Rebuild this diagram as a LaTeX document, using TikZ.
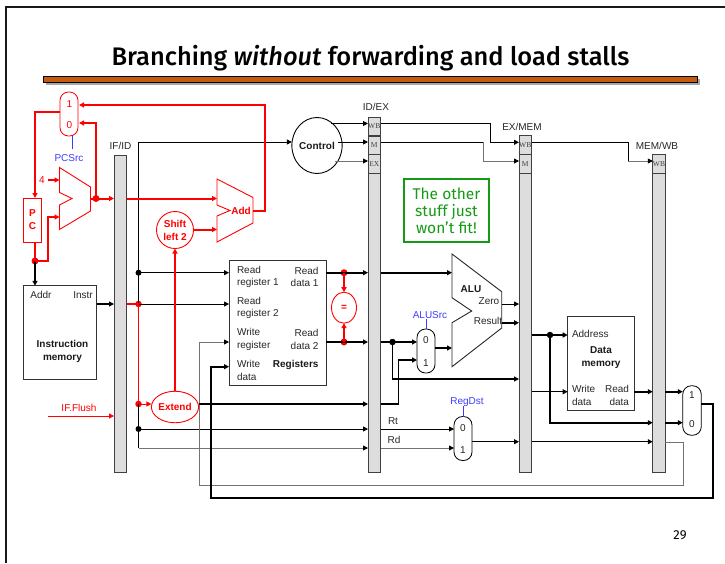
\documentclass[tikz,border=0pt]{standalone}
\usepackage{fontspec}
\setmainfont{Liberation Sans}
\newfontfamily\titlefont{Fira Sans}[BoldFont=* Medium,BoldItalicFont=* Medium Italic]
\newfontfamily\notefont{Fira Sans}
\newfontfamily\regfont{Liberation Serif}
\usetikzlibrary{arrows.meta,shapes.geometric,calc}
\definecolor{rulefill}{HTML}{C55A11}
\definecolor{barfill}{HTML}{DDDDDD}
\definecolor{ctlblue}{HTML}{3C3CFF}
\definecolor{notegreen}{HTML}{149A14}
\begin{document}
\begin{tikzpicture}[x=1pt,y=-1pt,
  font=\fontsize{10}{12.5}\selectfont,
  every node/.style={inner sep=0pt,outer sep=0pt},
  lbl/.style={text=black!85},
  blbl/.style={font=\fontsize{10}{13}\selectfont\bfseries,align=center,text=black!90},
  ctl/.style={text=ctlblue},
  rlbl/.style={text=red},
  rblbl/.style={text=red,font=\fontsize{10}{13}\selectfont\bfseries,align=center},
  blockbox/.style={draw=black!80,line width=.9pt,rectangle},
  bar/.style={draw=black!75,fill=barfill,line width=1pt,minimum width=12.5pt,rectangle},
  latch/.style={bar,minimum height=18.5pt,font=\regfont\fontsize{7.5}{8}\selectfont,text=black!75},
  muxbox/.style={draw=black,line width=.8pt,rectangle,rounded corners=8.5pt,minimum width=18pt,minimum height=44pt,fill=white},
  rmux/.style={muxbox,draw=red},
  dot/.style={circle,fill=black,minimum size=6.5pt},
  rdot/.style={circle,fill=red,minimum size=7pt},
  wire/.style={draw=black,line width=.9pt},
  gwire/.style={draw=black!55,line width=.9pt},
  bus/.style={draw=black,line width=1.7pt},
  rwire/.style={draw=red,line width=1pt},
  rbus/.style={draw=red,line width=2pt},
  tip/.style={-{Triangle[length=5pt,width=5pt,black]}},
  rtip/.style={-{Triangle[length=5pt,width=5pt,red]}},
  rsh/.style={draw=red,line width=.9pt},
]
\useasboundingbox (0,0) rectangle (725,563);

% slide frame, title, rule
\draw[line width=2pt,black!90] (6,563) -- (6,7) -- (725,7);
\node (title) at (370.5,58.5) {\titlefont\fontsize{25.4}{28}\selectfont\bfseries Branching \textit{without} forwarding and load stalls};
\fill[black!35] (46,79) rectangle (700,85);
\draw[fill=rulefill,line width=1pt] (43,76.5) rectangle (697,82);
\node (pageno) at (680,535) {\notefont\fontsize{13}{15}\selectfont 29};

% pipeline registers
\node[bar,minimum height=317.7pt] (ifid) at (120.25,313.85) {};
\node[bar,minimum height=355.7pt] (idex) at (374.25,294.85) {};
\node[bar,minimum height=337pt] (exmem) at (525.25,304.2) {};
\node[bar,minimum height=318pt] (memwb) at (659,313.7) {};
\node[latch] (idexwb) at (374.25,126.5) {WB};
\node[latch] (idexm) at (374.25,145.5) {M};
\node[latch] (idexex) at (374.25,164) {EX};
\node[latch] (exmemwb) at (525.25,145) {WB};
\node[latch] (exmemm) at (525.25,164) {M};
\node[latch] (memwbwb) at (659,164) {WB};
\node[lbl] (lifid) at (120.5,146) {IF/ID};
\node[lbl] (lidex) at (376,107) {ID/EX};
\node[lbl] (lexmem) at (522,127) {EX/MEM};
\node[lbl] (lmemwb) at (657,146) {MEM/WB};

% blocks
\node[rectangle,draw=red,line width=.9pt,minimum width=18.5pt,minimum height=44pt,align=center,rlbl,font=\fontsize{10}{13}\selectfont\bfseries] (pc) at (32.5,220) {P\\C};
\node[blockbox,minimum width=73pt,minimum height=93.5pt] (imem) at (60,332.5) {};
\node[blockbox,minimum width=97pt,minimum height=124.3pt] (regs) at (277.5,322.85) {};
\node[blockbox,minimum width=66.3pt,minimum height=93.3pt] (dmem) at (600.85,363.35) {};
\node[rmux] (pcmux) at (69,114) {};
\node[muxbox] (alumux) at (426,351) {};
\node[muxbox] (dstmux) at (463,438.5) {};
\node[muxbox,minimum width=18.5pt,minimum height=49.5pt] (wbmux) at (692,410.5) {};
\node[draw=red,line width=.9pt,circle,minimum size=37pt,rblbl] (shift) at (175,230) {Shift\\left 2};
\node[draw=red,line width=.9pt,ellipse,minimum width=36.5pt,minimum height=31.5pt,rblbl] (ext) at (175,407) {Extend};
\node[draw=red,line width=.9pt,ellipse,minimum width=25pt,minimum height=31pt,rblbl] (eq) at (344,307.7) {=};
\node[draw=black,line width=.9pt,ellipse,minimum width=42.5pt,minimum height=56pt,blbl] (ctrl) at (317,145.5) {Control};
\node[draw=notegreen,line width=1.5pt,rectangle,minimum width=85pt,minimum height=63pt,align=center,text=notegreen,font=\notefont\fontsize{15.5}{17}\selectfont] (note) at (446.5,210.5) {The other\\stuff just\\won’t fit!};

% adders and ALU
\draw[rsh] (59.5,167.5) -- (90.5,187) -- (90.5,211) -- (59.5,229.5) -- (59.5,205) -- (72,198.5) -- (59.5,192.5) -- cycle;
\draw[rsh] (217,179) -- (253,197.5) -- (253,223) -- (217,242) -- (217,216) -- (230,210.5) -- (217,205) -- cycle;
\draw[draw=black!85,line width=.9pt] (452,254) -- (501.7,291.7) -- (501.7,328) -- (452,366.7) -- (452,322.7) -- (471.7,311) -- (452,297.7) -- cycle;
\node[rblbl] (addl) at (241,211) {Add};
\node[blbl] (alul) at (471,289) {ALU};
\node[lbl] (zero) at (489,301) {Zero};
\node[lbl] (result) at (488,321) {Result};

% block texts
\node[lbl] (addr) at (41,295) {Addr};
\node[lbl] (instr) at (83,295) {Instr};
\node[blbl] (imemt) at (62.5,351.5) {Instruction\\memory};
\node[lbl,align=left,anchor=west] (rr1t) at (237,277) {Read\\register 1};
\node[lbl,align=left,anchor=west] (rr2t) at (237,308) {Read\\register 2};
\node[lbl,align=left,anchor=west] (wrt) at (237,339.5) {Write\\register};
\node[lbl,align=left,anchor=west] (wdt) at (237,370.5) {Write\\data};
\node[lbl,align=right,anchor=east] (rd1t) at (318.5,277) {Read\\data 1};
\node[lbl,align=right,anchor=east] (rd2t) at (318.5,339.5) {Read\\data 2};
\node[blbl,anchor=east] (regst) at (318.5,364.5) {Registers};
\node[lbl,anchor=west] (addrt) at (572,334) {Address};
\node[blbl] (dmemt) at (601,358) {Data\\memory};
\node[lbl,align=left,anchor=west] (wdm) at (572,395.5) {Write\\data};
\node[lbl,align=right,anchor=east] (rdm) at (629,395.5) {Read\\data};
\node[rlbl] (one) at (69.5,104) {1};
\node[rlbl] (zerop) at (69.5,125) {0};
\node[lbl] (as0) at (426,340) {0};
\node[lbl] (as1) at (426,363) {1};
\node[lbl] (rd0) at (463,428) {0};
\node[lbl] (rd1) at (463,450) {1};
\node[lbl] (wb1) at (692,395) {1};
\node[lbl] (wb0) at (692,424) {0};
\node[lbl] (rtl) at (393,421) {Rt};
\node[lbl] (rdl) at (394,440) {Rd};
\node[rlbl] (flushl) at (79,408) {IF.Flush};
\node[rlbl] (four) at (42,180) {4};

% control labels
\node[ctl] (pcsrc) at (69,158) {PCSrc};
\node[ctl] (alusrc) at (430,315) {ALUSrc};
\node[ctl] (regdst) at (467,402) {RegDst};
\coordinate (pcsrctop) at (72,136);
\coordinate (pcsrcbot) at (72,149);
\draw[ctlblue,line width=.9pt] (pcsrcbot) -- (pcsrctop);
\draw[ctlblue,line width=.9pt] (alusrc.south -| alumux.north) -- (alumux.north);
\draw[ctlblue,line width=.9pt] (regdst.south -| dstmux.north) -- (dstmux.north);

% rows and free ends
\coordinate (wbA) at (331,123.5);
\coordinate (mA) at (338,142);
\coordinate (exA) at (335,161);
\coordinate (wbB) at (490,142.3);
\coordinate (mB) at (483,161);
\coordinate (wbC) at (628,161);
\coordinate (ifbus) at (138.5,142);
\coordinate (flushstart) at (48,416);
\coordinate (rowpc) at (0,198.5);
\coordinate (row1) at (0,272.7);
\coordinate (row3) at (0,342);
\coordinate (row4) at (0,366.7);
\coordinate (rowext) at (0,404);
\coordinate (rowfwd) at (0,379);
\coordinate (rowmw) at (0,391.7);
\coordinate (rowaddr) at (0,335);
\coordinate (rowalu) at (0,422.7);
\coordinate (rowwbtop) at (0,404);
\coordinate (pcsel) at (60,111.5);
\coordinate (pcturn) at (35,111.5);
\coordinate (pcin) at (35,198);
\coordinate (pcout) at (35,242);
\coordinate (pcbr) at (79,105);
\coordinate (pcnext) at (79,123);
\coordinate (addout) at (253,210.7);
\coordinate (addtop) at (265,105);
\coordinate (addin2) at (217,229.5);
\coordinate (adderin) at (59.5,217);
\coordinate (adderv1) at (48,261);
\coordinate (adderv2) at (48,217);
\coordinate (fourin) at (59.5,180);
\coordinate (fourstart) at (48,180);
\coordinate (adderout) at (90.5,198.5);
\coordinate (add2in) at (217,198.5);
\coordinate (wrloop) at (683,442);
\coordinate (wrbot) at (683,485);
\coordinate (wrleft) at (199,485);
\coordinate (wdleft) at (211,497.7);
\coordinate (wdright) at (713,497.7);
\coordinate (aluin1) at (452,272.7);
\coordinate (aluin2) at (452,348);
\coordinate (aluzero) at (501.7,304);
\coordinate (alures) at (501.7,322.8);
\coordinate (extturn) at (398.5,404);
\coordinate (alumuxin) at (417,360);
\coordinate (rdmem) at (634,391.7);
\coordinate (addrhit) at (567.7,335);
\coordinate (dstout) at (472,441.7);
\coordinate (dst0) at (454,429);
\coordinate (dst1) at (454,448);

% junctions
\node[rdot] (jpc) at (35,261) {};
\node[rdot] (jnext) at (96,198.5) {};
\node[dot,minimum size=6pt] (j1) at (138.5,272.7) {};
\node[rdot,minimum size=6.5pt] (j2) at (138.5,304) {};
\node[rdot,minimum size=6.5pt] (j3) at (138.5,404) {};
\node[dot,minimum size=6pt] (j4) at (138.5,429) {};
\coordinate (j5) at (138.5,448);
\node[rdot] (jeq1) at (344,272.7) {};
\node[rdot] (jeq2) at (344,342) {};
\node[dot] (jrd2) at (392.5,342) {};
\node[dot] (jaddr) at (550,335) {};

% thin black wires
\draw[wire,tip] (ifbus) -- (ctrl.west |- ifbus);
\draw[wire] (ifbus) -- (j2.center);
\draw[wire] (j3.center) -- (j5);
\draw[wire,tip] (j1.center) -- (j1 -| regs.west);
\draw[wire,tip] (j2.center) -- (j2 -| regs.west);
\draw[wire,tip] (j4.center) -- (j4 -| idex.west);
\draw[gwire,tip] (j5) -- (j5 -| idex.west);
\draw[wire,tip] (j4 -| idex.east) -- (dst0);
\draw[gwire,tip] (j5 -| idex.east) -- (dst1);
\draw[wire,tip] (dstout) -- (dstout -| exmem.west);
\draw[wire,tip] (dstout -| exmem.east) -- (dstout -| memwb.west);
\draw[wire,tip] (wbA) -- (wbA -| idex.west);
\draw[wire,tip] (mA) -- (mA -| idex.west);
\draw[gwire,tip] (exA) -- (exA -| idex.west);
\draw[wire,tip] (wbA -| idex.east) -- (wbA -| wbB) -- (wbB) -- (wbB -| exmem.west);
\draw[wire] (mA -| idex.east) -- (mA -| mB);
\draw[gwire,tip] (mA -| mB) -- (mB) -- (mB -| exmem.west);
\draw[wire] (wbB -| exmem.east) -- (wbB -| wbC) -- (wbC);
\draw[gwire,tip] (wbC) -- (wbC -| memwb.west);
\draw[wire,tip] (aluzero) -- (aluzero -| exmem.west);
\draw[wire,tip] (rowmw -| exmem.east) -- (rowmw -| dmem.west);

% write-register loop
\draw[gwire,tip] (memwb.east |- wrloop) -- (wrloop) -- (wrbot) -- (wrleft) -- (wrleft |- row3) -- (row3 -| regs.west);

% thick black buses
\draw[bus,tip] (jpc.center) -- (jpc |- imem.north);
\draw[bus,tip] (imem.east |- j2) -- (j2 -| ifid.west);
\draw[bus,tip] (regs.east |- row1) -- (row1 -| idex.west);
\draw[bus,tip] (regs.east |- row3) -- (row3 -| idex.west);
\draw[bus,tip] (row1 -| idex.east) -- (aluin1);
\draw[bus,tip] (row3 -| idex.east) -- (row3 -| alumux.west);
\draw[bus,tip] (jrd2.center) -- (jrd2 |- rowfwd) -- (rowfwd -| exmem.west);
\draw[bus,tip] (ext.east |- rowext) -- (rowext -| idex.west);
\draw[bus,tip] (rowext -| idex.east) -- (extturn) -- (extturn |- alumuxin) -- (alumuxin);
\draw[bus,tip] (alumux.east |- aluin2) -- (aluin2);
\draw[bus,tip] (alures) -- (alures -| exmem.west);
\draw[bus,tip] (rowaddr -| exmem.east) -- (addrhit);
\draw[bus,tip] (jaddr.center) -- (jaddr |- rowalu) -- (rowalu -| memwb.west);
\draw[bus,tip] (rdmem) -- (rowmw -| memwb.west);
\draw[bus,tip] (rowmw -| memwb.east) -- (rowmw -| wbmux.west);
\draw[bus,tip] (rowalu -| memwb.east) -- (rowalu -| wbmux.west);
\draw[bus,tip] (wbmux.east |- rowwbtop) -- (rowwbtop -| wdright) -- (wdright) -- (wdleft) -- (wdleft |- row4) -- (row4 -| regs.west);

% red logic
\draw[rbus,rtip] (pcsel) -- (pcturn) -- (pcin);
\draw[rbus] (pcout) -- (jpc.center);
\draw[rbus,rtip] (jpc.center) -- (adderv1) -- (adderv2) -- (adderin);
\draw[rbus,rtip] (fourstart) -- (fourin);
\draw[rbus,rtip] (adderout) -- (jnext.center) -- (rowpc -| ifid.west);
\draw[rbus,rtip] (jnext.center) -- (jnext |- pcnext) -- (pcnext);
\draw[rbus,rtip] (rowpc -| ifid.east) -- (add2in);
\draw[rbus,rtip] (shift.east |- addin2) -- (addin2);
\draw[rbus,rtip] (ext.north) -- (shift.south);
\draw[rbus,rtip] (addout) -- (addout -| addtop) -- (addtop) -- (pcbr);
\draw[rbus,rtip] (jeq1.center) -- (eq.north);
\draw[rbus,rtip] (jeq2.center) -- (eq.south);
\draw[rbus] (ifid.east |- j2) -- (j2.center);
\draw[rwire] (j2.center) -- (j3.center);
\draw[rwire,rtip] (j3.center) -- (ext.west |- j3);
\draw[rwire,rtip] (flushstart) -- (flushstart -| ifid.west);
\end{tikzpicture}
\end{document}
